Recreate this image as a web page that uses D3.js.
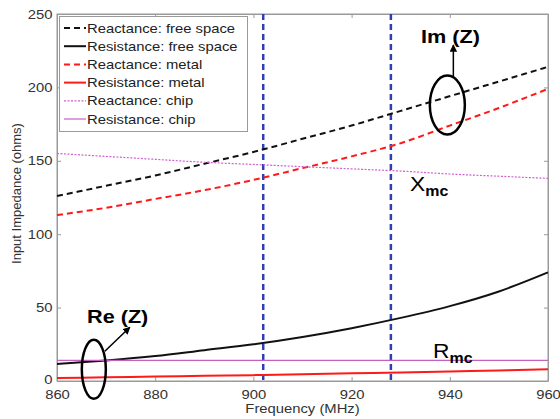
<!DOCTYPE html>
<html>
<head>
<meta charset="utf-8">
<script src="https://cdn.jsdelivr.net/npm/d3@7"></script>
<style>
  html, body { margin: 0; padding: 0; background: #fff; }
  svg { display: block; font-family: "Liberation Sans", Arial, sans-serif; }
</style>
</head>
<body>
<svg id="chart" width="560" height="419"></svg>
<script>
// Frequency sweep (MHz)
const freq = [860, 870, 880, 890, 900, 910, 920, 930, 940, 950, 960];

// Input impedance (ohms)
const reactanceFree  = [126, 133, 140, 148, 156, 165, 174, 184, 194, 204, 214];
const resistanceFree = [11.6, 14, 17, 21, 25, 30, 36, 43, 51, 61, 74];
const reactanceMetal = [113, 118, 124, 130, 137, 145, 153, 162, 174, 186, 199];
const resistanceMetal = [2, 2.5, 3, 3.5, 4, 4.6, 5.2, 5.8, 6.5, 7.2, 8];
const reactanceChip  = [155, 153, 151, 149, 147.5, 146, 144.5, 143, 141, 139.5, 138];
const resistanceChip = [14, 14, 14, 14, 14, 14, 14, 14, 14, 14, 14];

// Band edges marked with vertical lines (MHz)
const bandEdges = [902, 928];

const xTicks = [860, 880, 900, 920, 940, 960];
const yTicks = [0, 50, 100, 150, 200, 250];

const seriesNames = [
  "Reactance: free space", "Resistance: free space",
  "Reactance: metal", "Resistance: metal",
  "Reactance: chip", "Resistance: chip"
];
const seriesValues = [reactanceFree, resistanceFree, reactanceMetal, resistanceMetal, reactanceChip, resistanceChip];
const seriesColor = ["#111", "#111", "#ff1a1a", "#ff1a1a", "#d35fcf", "#c560c0"];
const seriesWidth = [2, 2, 2, 2, 1.2, 1.2];
const seriesDash  = ["6,4", null, "6,4", null, "2,1.5", null];

const svg = d3.select("#chart");
const plotLeft = 57, plotRight = 548, plotTop = 14, plotBottom = 381;

// Horizontal text uses a slightly widened face
const stretch = 1.14;

const x = d3.scaleLinear().domain([860, 960]).range([plotLeft, plotRight]);
const y = d3.scaleLinear().domain([0, 250]).range([plotBottom, plotTop]);

const axisColor = "#9a9a9a";
const textColor = "#333";

// Places a horizontally widened text anchored at (px, py)
function wideText(parent, px, py) {
  return parent.append("text")
    .attr("transform", `translate(${px},${py}) scale(${stretch},1)`);
}

// Plot frame
svg.append("rect")
  .attr("x", plotLeft).attr("y", plotTop)
  .attr("width", plotRight - plotLeft).attr("height", plotBottom - plotTop)
  .attr("fill", "none").attr("stroke", axisColor).attr("stroke-width", 1);

// Axes with inward ticks
const xAxis = svg.append("g").attr("transform", `translate(0,${plotBottom})`)
  .call(d3.axisBottom(x).tickValues(xTicks).tickSizeInner(-4).tickSizeOuter(0).tickPadding(9));
const xAxisTop = svg.append("g").attr("transform", `translate(0,${plotTop})`)
  .call(d3.axisTop(x).tickValues(xTicks).tickSizeInner(-4).tickSizeOuter(0).tickFormat(""));
const yAxis = svg.append("g").attr("transform", `translate(${plotLeft},0)`)
  .call(d3.axisLeft(y).tickValues(yTicks).tickSizeInner(-4).tickSizeOuter(0).tickPadding(4));
const yAxisRight = svg.append("g").attr("transform", `translate(${plotRight},0)`)
  .call(d3.axisRight(y).tickValues(yTicks).tickSizeInner(-4).tickSizeOuter(0).tickFormat(""));

[xAxis, xAxisTop, yAxis, yAxisRight].forEach(g => {
  g.select(".domain").attr("stroke", axisColor);
  g.selectAll(".tick line").attr("stroke", axisColor);
  g.selectAll(".tick text").attr("fill", textColor).attr("font-size", 13)
    .attr("font-family", "Liberation Sans, Arial, sans-serif")
    .attr("transform", `scale(${stretch},1)`);
});
// Lift the zero label a touch so it clears the first frequency label
yAxis.selectAll(".tick").filter(d => d === 0).select("text").attr("dy", "0.2em");

// Axis titles
wideText(svg, (plotLeft + plotRight) / 2, 413)
  .attr("text-anchor", "middle").attr("font-size", 13).attr("fill", textColor)
  .text("Frequency (MHz)");
svg.append("text")
  .attr("transform", `translate(21,${(plotTop + plotBottom) / 2 - 4}) rotate(-90)`)
  .attr("text-anchor", "middle").attr("font-size", 13).attr("fill", textColor)
  .text("Input Impedance (ohms)");

const plot = svg.append("g");

// Band edge markers
plot.selectAll("line.band").data(bandEdges).join("line")
  .attr("class", "band")
  .attr("x1", d => x(d)).attr("x2", d => x(d))
  .attr("y1", y(250)).attr("y2", y(0))
  .attr("stroke", "#2d3fb3").attr("stroke-width", 2.5).attr("stroke-dasharray", "6,4");

// Impedance curves
const line = d3.line().x((d, i) => x(freq[i])).y(d => y(d)).curve(d3.curveMonotoneX);
seriesValues.forEach((vals, k) => {
  plot.append("path")
    .datum(vals)
    .attr("d", line)
    .attr("fill", "none")
    .attr("stroke", seriesColor[k])
    .attr("stroke-width", seriesWidth[k])
    .attr("stroke-dasharray", seriesDash[k]);
});

// Legend
const legend = svg.append("g");
legend.append("rect")
  .attr("x", 59.5).attr("y", 16.5).attr("width", 188).attr("height", 115)
  .attr("fill", "#fff").attr("stroke", axisColor);
seriesNames.forEach((name, k) => {
  const ly = 28 + k * 18.2;
  legend.append("line")
    .attr("x1", 64).attr("x2", 86).attr("y1", ly).attr("y2", ly)
    .attr("stroke", seriesColor[k]).attr("stroke-width", seriesWidth[k])
    .attr("stroke-dasharray", seriesDash[k]);
  wideText(legend, 87, ly + 4.5).attr("font-size", 13).attr("fill", "#222")
    .text(name);
});

// Annotations
const ann = svg.append("g").attr("fill", "none").attr("stroke", "#000").attr("stroke-width", 2.5);
svg.append("defs").append("marker")
  .attr("id", "arrow").attr("viewBox", "0 0 10 10").attr("refX", 9).attr("refY", 5)
  .attr("markerWidth", 5).attr("markerHeight", 5).attr("orient", "auto")
  .append("path").attr("d", "M0,0 L10,5 L0,10 Z").attr("fill", "#000");

// Im(Z) group around the reactance curves
const imFreq = 939.5, imVal = 188;
ann.append("ellipse").attr("cx", x(imFreq)).attr("cy", y(imVal)).attr("rx", 17.5).attr("ry", 29.5);
svg.append("line")
  .attr("x1", x(imFreq) + 6).attr("y1", y(imVal) - 29)
  .attr("x2", x(imFreq) + 6).attr("y2", y(imVal) - 60)
  .attr("stroke", "#000").attr("stroke-width", 1.5).attr("marker-end", "url(#arrow)");
wideText(svg, 421, 43)
  .attr("font-size", 19).attr("font-weight", "bold").attr("fill", "#000").text("Im (Z)");

// Re(Z) group around the resistance curves
const reFreq = 867.5, reVal = 8;
ann.append("ellipse").attr("cx", x(reFreq)).attr("cy", y(reVal)).attr("rx", 12).attr("ry", 29.5);
svg.append("line")
  .attr("x1", x(reFreq) + 11).attr("y1", y(reVal) - 18)
  .attr("x2", x(reFreq) + 36).attr("y2", y(reVal) - 42)
  .attr("stroke", "#000").attr("stroke-width", 1.5).attr("marker-end", "url(#arrow)");
wideText(svg, 87, 323)
  .attr("font-size", 19).attr("font-weight", "bold").attr("fill", "#000").text("Re (Z)");

// Chip impedance labels
const xmc = wideText(svg, 410, 191).attr("font-size", 20).attr("fill", "#000");
xmc.append("tspan").text("X");
xmc.append("tspan").attr("font-size", 14).attr("font-weight", "bold").attr("dy", 5).text("mc");
const rmc = wideText(svg, 433, 358).attr("font-size", 20).attr("fill", "#000");
rmc.append("tspan").text("R");
rmc.append("tspan").attr("font-size", 14).attr("font-weight", "bold").attr("dy", 5).text("mc");
</script>
</body>
</html>
